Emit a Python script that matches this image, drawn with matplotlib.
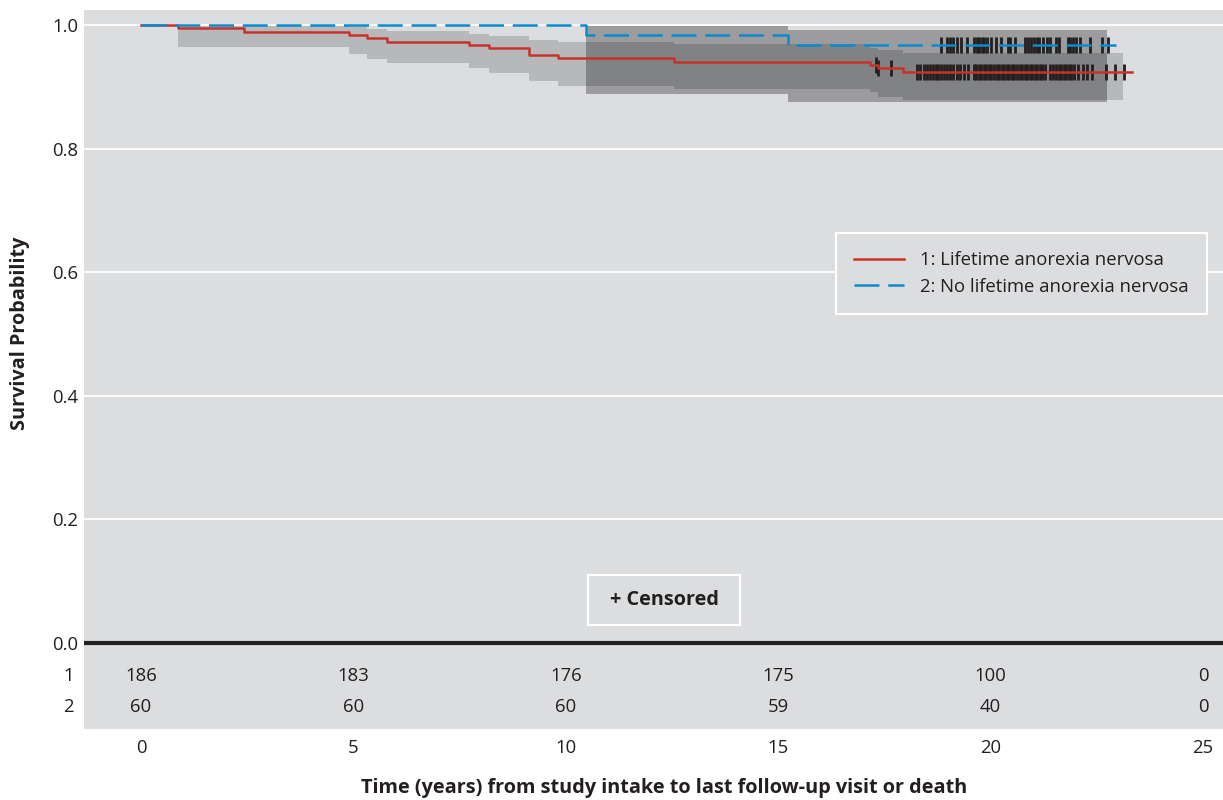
import numpy as np
import matplotlib.pyplot as plt
from matplotlib.patches import Rectangle

plt.rcParams['font.family'] = ['Open Sans', 'DejaVu Sans']

# group 1: lifetime anorexia nervosa
t1 = [0, 0.88, 2.43, 4.90, 5.33, 5.79, 7.73, 8.19, 9.13, 9.82, 12.54, 17.16, 17.35, 17.94]
s1 = [1.0, 0.9946, 0.9892, 0.9839, 0.9785, 0.9731, 0.9677, 0.9624, 0.9516, 0.9462, 0.9409, 0.9355, 0.9300, 0.9245]
lo1 = [1.0, 0.9639, 0.9639, 0.9531, 0.9445, 0.9390, 0.9304, 0.9229, 0.9099, 0.9018, 0.8964, 0.8920, 0.8840, 0.8786]
hi1 = [1.0, 0.9990, 0.9985, 0.9973, 0.9935, 0.9903, 0.9854, 0.9822, 0.9757, 0.9720, 0.9687, 0.9633, 0.9595, 0.9552]
end1 = 23.33
ci_end1 = 23.11
cens1 = [17.30, 17.36, 17.65, 18.26, 18.34, 18.42, 18.51, 18.57, 18.65, 18.71, 18.77, 18.84,
         18.91, 18.97, 19.04, 19.12, 19.20, 19.28, 19.37, 19.47,
         19.60, 19.66, 19.72, 19.78, 19.84, 19.90, 19.96, 20.02, 20.08, 20.14, 20.20, 20.26,
         20.32, 20.38, 20.44, 20.50, 20.56, 20.62, 20.68, 20.74, 20.80, 20.86, 20.92, 20.98,
         21.04, 21.10, 21.16, 21.22, 21.28, 21.40, 21.46, 21.53, 21.60, 21.66, 21.72, 21.78,
         21.84, 21.90, 21.96, 22.06, 22.17, 22.28, 22.38, 22.72, 22.92, 23.15]

# group 2: no lifetime anorexia nervosa
t2 = [0, 10.48, 15.22]
s2 = [1.0, 0.9833, 0.9675]
lo2 = [1.0, 0.8880, 0.8749]
hi2 = [1.0, 0.9989, 0.9919]
end2 = 22.95
ci_end2 = 22.73
cens2 = [18.82, 18.97, 19.04, 19.12, 19.22, 19.30, 19.44, 19.61, 19.67, 19.73, 19.79, 19.85,
         19.92, 20.00, 20.13, 20.25, 20.40, 20.46, 20.58, 20.81, 20.89, 20.96, 21.02, 21.08,
         21.14, 21.24, 21.32, 21.40, 21.53, 21.62, 21.82, 21.87, 21.95, 22.01, 22.10, 22.35,
         22.63, 22.76]

# numbers at risk
risk_times = [0, 5, 10, 15, 20, 25]
risk1 = [186, 183, 176, 175, 100, 0]
risk2 = [60, 60, 60, 59, 40, 0]

labels = ['1: Lifetime anorexia nervosa', '2: No lifetime anorexia nervosa']

bg = '#dcdddf'
txt = '#231f20'
red = '#c8322a'
blue = '#0a8bd0'
fs = 13.3
fsb = 14.3

fig = plt.figure(figsize=(12.23, 8), dpi=100)
ax = fig.add_axes([84/1223, 1-729/800, 1-84/1223, (729-10)/800])
ax.set_facecolor(bg)
for sp in ax.spines.values():
    sp.set_visible(False)

ax.set_xlim(-1.342, 25.47)
ax.set_ylim(-0.1392, 1.0243)

# white grid lines
for yv in [0.2, 0.4, 0.6, 0.8, 1.0]:
    ax.axhline(yv, color='white', lw=1.3, zorder=1)
ax.axhline(0, color=txt, lw=3, zorder=2)

# confidence bands
ax.fill_between(t1 + [ci_end1], lo1 + [lo1[-1]], hi1 + [hi1[-1]], step='post',
                color='black', alpha=0.165, lw=0, zorder=2)
ax.fill_between(t2 + [ci_end2], lo2 + [lo2[-1]], hi2 + [hi2[-1]], step='post',
                color='black', alpha=0.29, lw=0, zorder=2)

# censor marks
def at(t, s, c):
    idx = np.searchsorted(t, c, side='right') - 1
    return np.array(s)[idx]

ax.plot(cens1, at(t1, s1, cens1), ls='none', marker='|', ms=11.5, mew=2, color=txt, zorder=3)
ax.plot(cens2, at(t2, s2, cens2), ls='none', marker='|', ms=11.5, mew=2, color=txt, zorder=3)

# survival curves
l1, = ax.step(t1 + [end1], s1 + [s1[-1]], where='post', color=red, lw=1.8, zorder=4, label=labels[0])
l2, = ax.step(t2 + [end2], s2 + [s2[-1]], where='post', color=blue, lw=1.8, zorder=4,
              dashes=(10, 3.5), label=labels[1])

ax.set_yticks([0, 0.2, 0.4, 0.6, 0.8, 1.0])
ax.set_yticklabels(['0.0', '0.2', '0.4', '0.6', '0.8', '1.0'])
ax.set_xticks(risk_times)
ax.tick_params(length=0, labelsize=fs, colors=txt)
ax.tick_params(axis='x', pad=7)
ax.tick_params(axis='y', pad=4)

# numbers at risk inside the panel
for x, a, b in zip(risk_times, risk1, risk2):
    ax.text(x, -0.0534, str(a), ha='center', va='center', fontsize=fs, color=txt)
    ax.text(x, -0.1036, str(b), ha='center', va='center', fontsize=fs, color=txt)
fig.text(69/1223, 1-676/800, '1', ha='center', va='center', fontsize=fs, color=txt)
fig.text(68/1223, 1-707/800, '2', ha='center', va='center', fontsize=fs, color=txt)

leg = ax.legend(handles=[l1, l2], loc='upper right', bbox_to_anchor=(1207/1223, 1-233/800),
                bbox_transform=fig.transFigure, borderaxespad=0, fancybox=False,
                facecolor=bg, edgecolor='white', framealpha=1, fontsize=fs,
                handlelength=2.7, handletextpad=0.85, labelspacing=0.45, borderpad=1.0)
leg.get_frame().set_linewidth(1.5)
for t in leg.get_texts():
    t.set_color(txt)

# censored box
fig.patches.append(Rectangle((588/1223, 1-625/800), 152/1223, 50/800, transform=fig.transFigure,
                             facecolor=bg, edgecolor='white', lw=1.5, zorder=5))
fig.text(664/1223, 1-600/800, '+ Censored', ha='center', va='center', fontsize=fsb,
         fontweight='bold', color=txt, zorder=6)

fig.text(20/1223, 1-333/800, 'Survival Probability', rotation=90, ha='center', va='center',
         fontsize=fsb, fontweight='bold', color=txt)
fig.text(664/1223, 1-788/800, 'Time (years) from study intake to last follow-up visit or death',
         ha='center', va='center', fontsize=fsb, fontweight='bold', color=txt)

fig.savefig('out.png', dpi=100)
